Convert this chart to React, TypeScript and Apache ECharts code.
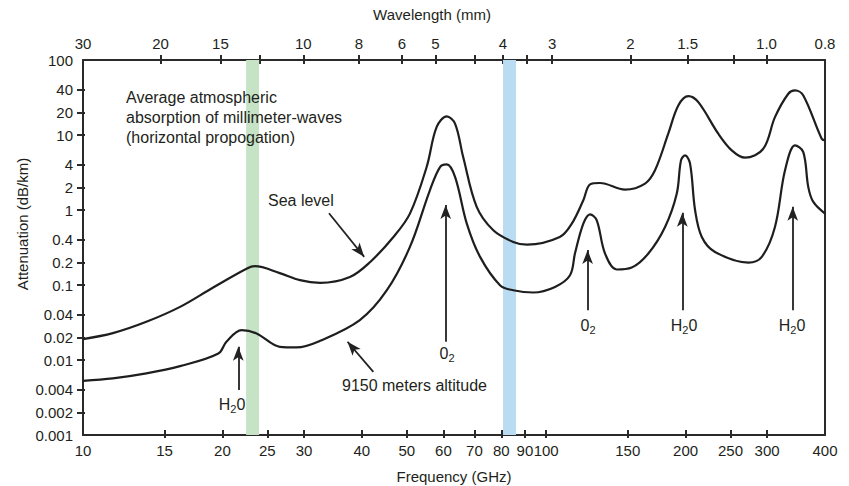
import React, { useEffect, useRef } from 'react';
import * as echarts from 'echarts';

// Sea level curve (frequency GHz, attenuation dB/km)
const seaLevelFreq = [10, 11.6, 13.7, 16.2, 19.1, 22.6, 23.5, 26.6, 29.4, 32.5, 37.7, 41.7, 46.8, 50.8, 55.2, 58.0, 61.0, 63.6, 66.2, 70.8, 76.9, 84.9, 90.9, 107, 113.6, 120.3, 124.4, 130.7, 148, 163.5, 171.8, 183.5, 192.9, 202.8, 213.1, 235.3, 251.6, 268.8, 294.4, 311.9, 333.3, 344.6, 359.1, 393.5, 400];
const seaLevelAtt = [0.019, 0.0228, 0.0323, 0.0511, 0.0926, 0.166, 0.178, 0.144, 0.116, 0.107, 0.128, 0.203, 0.437, 0.895, 3.74, 12.7, 17.7, 14.1, 5.08, 1.10, 0.536, 0.375, 0.346, 0.437, 0.659, 1.35, 2.2, 2.29, 1.87, 2.25, 3.38, 10.4, 24.8, 33, 27.4, 10.4, 6.24, 4.98, 6.57, 17.3, 35.5, 39.3, 33.7, 8.93, 8.5];

// 9150 m altitude curve
const highFreq = [10, 11.6, 13.7, 16.2, 19.6, 20.4, 22.0, 23.7, 26.6, 28.9, 32.5, 39.6, 45.3, 50.8, 56.1, 59.0, 61.0, 63.6, 67.4, 72.0, 79.5, 84.9, 93.8, 104.5, 112.6, 115.4, 120.3, 124.4, 128.6, 134.0, 142.0, 153.0, 166.2, 180.6, 191.4, 195.5, 199.5, 204.5, 209.7, 216.8, 231.5, 273.3, 292.1, 311.9, 327.9, 344.6, 359.1, 368.1, 377.4, 400];
const highAtt = [0.00528, 0.00569, 0.00663, 0.00829, 0.0122, 0.0175, 0.025, 0.0226, 0.015, 0.0147, 0.018, 0.034, 0.0852, 0.322, 1.83, 3.74, 4.06, 2.75, 0.659, 0.237, 0.0994, 0.0852, 0.0794, 0.0943, 0.135, 0.263, 0.659, 0.877, 0.729, 0.263, 0.161, 0.171, 0.263, 0.594, 1.65, 4.59, 5.35, 4.15, 0.991, 0.437, 0.276, 0.199, 0.237, 0.594, 3.38, 7.27, 5.92, 2.02, 1.28, 0.895];

// Frequency axis
const freqMin = 10;
const freqMax = 400;
const freqTickValues = [15, 20, 25, 30, 40, 50, 60, 70, 80, 90, 100, 150, 200, 250, 300];
const freqLabelValues = [10, 15, 20, 25, 30, 40, 50, 60, 70, 80, 90, 100, 150, 200, 250, 300, 400];

// Wavelength axis (positions given in GHz where the ticks sit)
const wavelengthTickFreqs = [14.7, 19.8, 24.1, 29.9, 39.4, 48.8, 57.7, 70.0, 80.7, 90.9, 103, 152, 202, 254, 299];
const wavelengthLabelFreqs = [10, 14.7, 19.8, 29.9, 39.4, 48.8, 57.7, 80.7, 103, 152, 202, 299, 400];
const wavelengthLabels = ['30', '20', '15', '10', '8', '6', '5', '4', '3', '2', '1.5', '1.0', '0.8'];

// Attenuation axis
const attMin = 0.001;
const attMax = 100;
const attTickValues = [0.002, 0.004, 0.01, 0.02, 0.04, 0.1, 0.2, 0.4, 1, 2, 4, 10, 20, 40];
const attLabelValues = [0.001, 0.002, 0.004, 0.01, 0.02, 0.04, 0.1, 0.2, 0.4, 1, 2, 4, 10, 20, 40, 100];
const attLabels = ['0.001', '0.002', '0.004', '0.01', '0.02', '0.04', '0.1', '0.2', '0.4', '1', '2', '4', '10', '20', '40', '100'];

// Highlighted bands [from GHz, to GHz]
const bandGreen = [22.5, 24.0];
const bandBlue = [80.7, 86.1];

// Arrows: [fromFreq, fromAtt, toFreq, toAtt]
const arrows = [
  [33.97, 0.904, 40.47, 0.2373],
  [42.35, 0.00696, 37.25, 0.01752],
  [21.64, 0.00397, 21.64, 0.01507],
  [60.69, 0.01747, 60.69, 1.162],
  [122.9, 0.04616, 122.9, 0.2924],
  [196.8, 0.04616, 196.8, 0.9178],
  [340.7, 0.04616, 340.7, 1.103],
];

const FONT = '"Liberation Sans", Arial, Helvetica, sans-serif';
const INK = '#231f20';
const AXIS = '#2a2a2a';

function nearestIndex(list: number[], v: number) {
  let best = 0;
  let bd = Infinity;
  list.forEach((x, i) => {
    const d = Math.abs(Math.log(x) - Math.log(v));
    if (d < bd) { bd = d; best = i; }
  });
  return best;
}

export default function App() {
  const ref = useRef<HTMLDivElement>(null);
  useEffect(() => {
    if (!ref.current) return;
    const chart = echarts.init(ref.current, null, { renderer: 'svg' });
    const gridRect = { left: 83, right: 24, top: 60, bottom: 51 };
    const axisLine = { show: true, lineStyle: { color: AXIS, width: 2 } };
    const label = { color: INK, fontSize: 15, fontFamily: FONT };
    const richStyle = {
      a: { fontSize: 16, fontFamily: FONT, color: INK },
      b: { fontSize: 11, fontFamily: FONT, color: INK, padding: [9, 0, 0, 0] },
    };
    const plainText = (text: string, x: number, y: number, size: number, align: string, vAlign: string, extra: any = {}) => ({
      type: 'text', x, y, z: 100, ...extra,
      style: { text, font: `${size}px ${FONT}`, fill: INK, align, verticalAlign: vAlign, textAlign: align, textVerticalAlign: vAlign, ...(extra.style || {}) },
    });
    const chemLabel = (text: string, x: number, y: number) => ({
      type: 'text',
      x, y, z: 100,
      style: {
        text,
        rich: richStyle,
        align: 'center', verticalAlign: 'middle',
        textAlign: 'center', textVerticalAlign: 'middle',
        fill: INK,
      },
    });

    chart.setOption({
      animation: false,
      grid: [
        { ...gridRect },
        { ...gridRect },
      ],
      xAxis: [
        {
          type: 'log', gridIndex: 0, position: 'bottom', min: freqMin, max: freqMax,
          axisLine,
          axisTick: { show: true, length: 3, inside: false, lineStyle: { color: AXIS, width: 2 }, customValues: freqTickValues },
          axisLabel: { ...label, margin: 8, customValues: freqLabelValues, formatter: (v: number) => String(Math.round(v)) },
          splitLine: { show: false },
          minorTick: { show: false },
        },
        {
          type: 'log', gridIndex: 0, position: 'top', min: freqMin, max: freqMax,
          axisLine,
          axisTick: { show: true, length: 5, inside: false, lineStyle: { color: AXIS, width: 2 }, customValues: wavelengthTickFreqs },
          axisLabel: { ...label, margin: 9, customValues: wavelengthLabelFreqs, formatter: (v: number) => wavelengthLabels[nearestIndex(wavelengthLabelFreqs, v)] },
          splitLine: { show: false },
        },
        {
          type: 'log', gridIndex: 1, position: 'bottom', min: freqMin, max: freqMax,
          axisLine: { show: false },
          axisTick: { show: true, length: 5, inside: true, lineStyle: { color: AXIS, width: 2 }, customValues: freqTickValues },
          axisLabel: { show: false },
          splitLine: { show: false },
        },
        {
          type: 'log', gridIndex: 1, position: 'top', min: freqMin, max: freqMax,
          axisLine: { show: false },
          axisTick: { show: true, length: 4, inside: true, lineStyle: { color: AXIS, width: 2 }, customValues: wavelengthTickFreqs },
          axisLabel: { show: false },
          splitLine: { show: false },
        },
      ],
      yAxis: [
        {
          type: 'log', gridIndex: 0, position: 'left', min: attMin, max: attMax,
          axisLine,
          axisTick: { show: true, length: 6, inside: false, lineStyle: { color: AXIS, width: 2 }, customValues: attTickValues },
          axisLabel: { ...label, margin: 10, customValues: attLabelValues, formatter: (v: number) => attLabels[nearestIndex(attLabelValues, v)] },
          splitLine: { show: false },
        },
        {
          type: 'log', gridIndex: 0, position: 'right', min: attMin, max: attMax,
          axisLine,
          axisTick: { show: false },
          axisLabel: { show: false },
          splitLine: { show: false },
        },
        {
          type: 'log', gridIndex: 1, position: 'left', min: attMin, max: attMax,
          axisLine: { show: false },
          axisTick: { show: true, length: 2, inside: true, lineStyle: { color: AXIS, width: 2 }, customValues: attTickValues },
          axisLabel: { show: false },
          splitLine: { show: false },
        },
        {
          type: 'log', gridIndex: 1, position: 'right', min: attMin, max: attMax,
          show: false,
        },
      ],
      series: [
        {
          name: 'Sea level',
          type: 'line',
          xAxisIndex: 0, yAxisIndex: 0,
          data: seaLevelFreq.map((f, i) => [f, seaLevelAtt[i]]),
          showSymbol: false,
          smooth: 0.35,
          lineStyle: { color: '#1e1e1e', width: 2.2 },
          silent: true,
          z: 3,
          markArea: {
            silent: true,
            data: [
              [{ xAxis: bandGreen[0], itemStyle: { color: '#c6e3c6', opacity: 1 } }, { xAxis: bandGreen[1] }],
              [{ xAxis: bandBlue[0], itemStyle: { color: '#badcf2', opacity: 1 } }, { xAxis: bandBlue[1] }],
            ],
            z: 1,
          },
          markLine: {
            silent: true,
            symbol: ['none', 'arrow'],
            symbolSize: [0, 13],
            label: { show: false },
            lineStyle: { color: '#222', width: 1.8, type: 'solid' },
            data: arrows.map((a) => [
              { coord: [a[0], a[1]], symbol: 'none' },
              { coord: [a[2], a[3]], symbol: 'arrow', symbolSize: [8, 14] },
            ]),
          },
        },
        {
          name: '9150 meters altitude',
          type: 'line',
          xAxisIndex: 0, yAxisIndex: 0,
          data: highFreq.map((f, i) => [f, highAtt[i]]),
          showSymbol: false,
          smooth: 0.35,
          lineStyle: { color: '#1e1e1e', width: 2.2 },
          silent: true,
          z: 3,
        },
      ],
      graphic: [
        plainText('Wavelength (mm)', 432, 14, 15, 'center', 'middle'),
        plainText('Frequency (GHz)', 454, 476, 15, 'center', 'middle'),
        plainText('Attenuation (dB/km)', 22, 224, 15, 'center', 'middle', { rotation: Math.PI / 2 }),
        plainText('Average atmospheric\nabsorption of millimeter-waves\n(horizontal propogation)', 126, 87, 16, 'left', 'top', { style: { lineHeight: 20 } }),
        plainText('Sea level', 268, 200, 16, 'left', 'middle'),
        plainText('9150 meters altitude', 342, 385, 16, 'left', 'middle'),
        chemLabel('{a|H}{b|2}{a|0}', 232, 404),
        chemLabel('{a|0}{b|2}', 447, 353),
        chemLabel('{a|0}{b|2}', 588, 325),
        chemLabel('{a|H}{b|2}{a|0}', 684, 325),
        chemLabel('{a|H}{b|2}{a|0}', 792, 325),
      ],
    });
    return () => chart.dispose();
  }, []);
  return <div ref={ref} style={{ position: 'fixed', left: 0, top: 0, width: 849, height: 486, background: '#fff' }} />;
}
